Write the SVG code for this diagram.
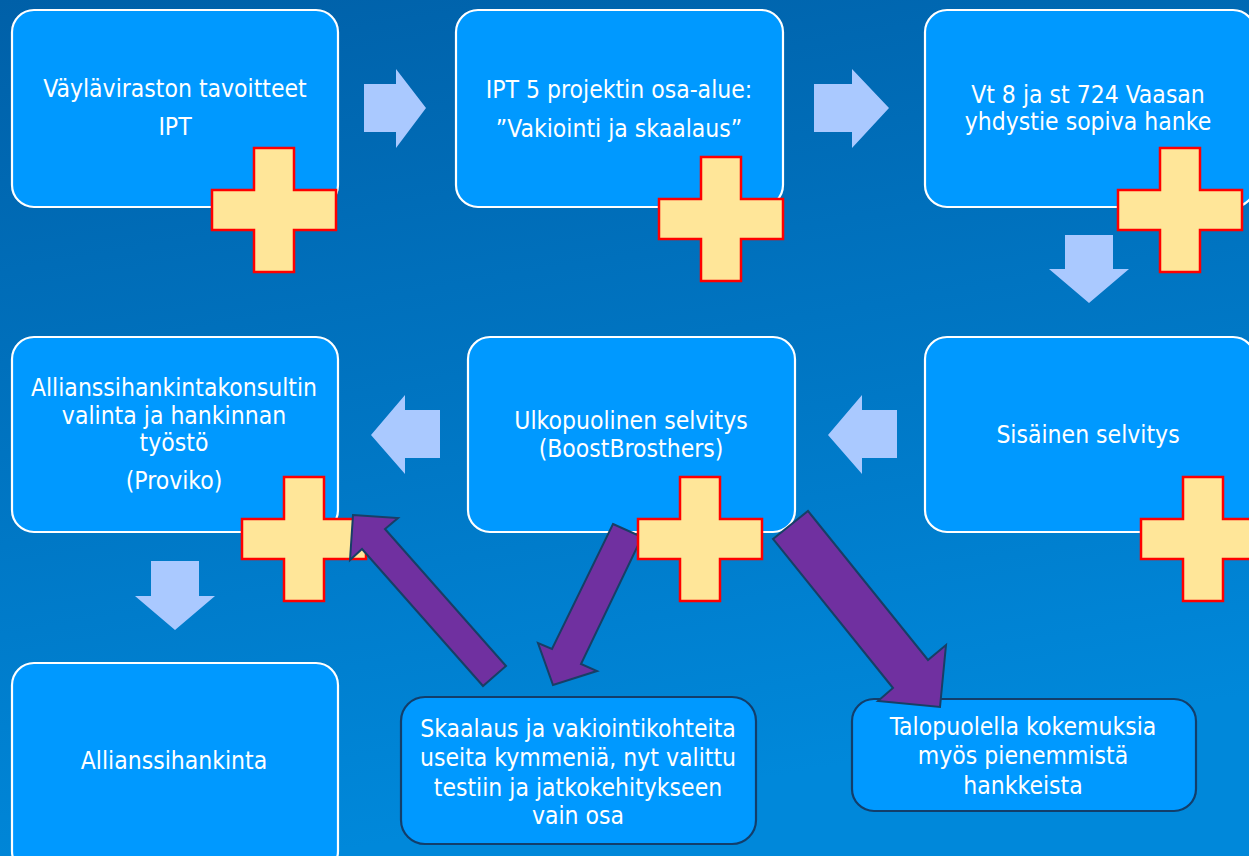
<svg xmlns="http://www.w3.org/2000/svg" xmlns:xlink="http://www.w3.org/1999/xlink" width="1249" height="856" viewBox="0 0 1249 856">
  <defs>
    <linearGradient id="bg" x1="0" y1="0" x2="0.25" y2="1">
      <stop offset="0" stop-color="#0060A8"/>
      <stop offset="1" stop-color="#0088DA"/>
    </linearGradient>
    <path id="plus" d="M42,0 h40 v42 h42 v40 h-42 v42 h-40 v-42 h-42 v-40 h42 z"/>
    <style>
      .box { fill: #0099FF; stroke: #FFFFFF; stroke-width: 2.2; }
      .box2 { fill: #0099FF; stroke: #123E6B; stroke-width: 2.2; }
      .plus { fill: #FFE699; stroke: #FF0000; stroke-width: 2.5; }
      .barrow { fill: #AAC9FF; stroke: none; }
      .parrow { fill: #7030A0; stroke: #173F66; stroke-width: 2; stroke-linejoin: miter; }
      text { font-family: "DejaVu Sans Condensed", "DejaVu Sans", sans-serif; font-stretch: condensed; font-size: 24.5px; fill: #FFFFFF; text-anchor: middle; }
    </style>
  </defs>
  <rect x="0" y="0" width="1249" height="856" fill="url(#bg)"/>

  <g id="flow-arrows">
    <polygon class="barrow" points="364,84 396,84 396,69 426,108 396,148 396,132 364,132"/>
    <polygon class="barrow" points="814,84 852,84 852,69 889,108 852,148 852,132 814,132"/>
    <polygon class="barrow" points="1065,235 1113,235 1113,269 1129,269 1089,303 1049,269 1065,269"/>
    <polygon class="barrow" points="897,410 862,410 862,395 828,435 862,474 862,458 897,458"/>
    <polygon class="barrow" points="440,410 405,410 405,395 371,435 405,474 405,458 440,458"/>
    <polygon class="barrow" points="151,561 199,561 199,596 215,596 175,630 135,596 151,596"/>
  </g>

  <g id="node-vaylavirasto">
    <rect class="box" x="12" y="10" width="326" height="197" rx="22"/>
    <text x="175" y="97">Väyläviraston tavoitteet</text>
    <text x="175" y="135">IPT</text>
  </g>
  <g id="node-ipt5">
    <rect class="box" x="456" y="10" width="327" height="197" rx="22"/>
    <text x="619" y="98">IPT 5 projektin osa-alue:</text>
    <text x="619" y="137">”Vakiointi ja skaalaus”</text>
  </g>
  <g id="node-vt8">
    <rect class="box" x="925" y="10" width="330" height="197" rx="22"/>
    <text x="1088" y="103">Vt 8 ja st 724 Vaasan</text>
    <text x="1088" y="130">yhdystie sopiva hanke</text>
  </g>
  <g id="node-allianssikonsultti">
    <rect class="box" x="12" y="337" width="326" height="195" rx="22"/>
    <text x="174" y="396">Allianssihankintakonsultin</text>
    <text x="174" y="424">valinta ja hankinnan</text>
    <text x="174" y="451">työstö</text>
    <text x="174" y="489">(Proviko)</text>
  </g>
  <g id="node-ulkopuolinen">
    <rect class="box" x="468" y="337" width="327" height="195" rx="22"/>
    <text x="631" y="429">Ulkopuolinen selvitys</text>
    <text x="631" y="457">(BoostBrosthers)</text>
  </g>
  <g id="node-sisainen">
    <rect class="box" x="925" y="337" width="330" height="195" rx="22"/>
    <text x="1088" y="443">Sisäinen selvitys</text>
  </g>
  <g id="node-allianssihankinta">
    <rect class="box" x="12" y="663" width="326" height="210" rx="22"/>
    <text x="174" y="769">Allianssihankinta</text>
  </g>
  <g id="node-skaalaus">
    <rect class="box2" x="401" y="697" width="355" height="147" rx="24"/>
    <text x="578" y="737">Skaalaus ja vakiointikohteita</text>
    <text x="578" y="766">useita kymmeniä, nyt valittu</text>
    <text x="578" y="796">testiin ja jatkokehitykseen</text>
    <text x="578" y="824">vain osa</text>
  </g>
  <g id="node-talopuoli">
    <rect class="box2" x="852" y="699" width="344" height="112" rx="22"/>
    <text x="1023" y="735">Talopuolella kokemuksia</text>
    <text x="1023" y="764">myös pienemmistä</text>
    <text x="1023" y="794">hankkeista</text>
  </g>

  <g id="connector-b">
    <polygon class="parrow" points="613,524 642,537 581,664 597,671 553,685 538,643 552,649"/>
  </g>

  <g id="plus-marks">
    <use xlink:href="#plus" class="plus" transform="translate(212,148)"/>
    <use xlink:href="#plus" class="plus" transform="translate(659,157)"/>
    <use xlink:href="#plus" class="plus" transform="translate(1118,148)"/>
    <use xlink:href="#plus" class="plus" transform="translate(242,477)"/>
    <use xlink:href="#plus" class="plus" transform="translate(638,477)"/>
    <use xlink:href="#plus" class="plus" transform="translate(1141,477)"/>
  </g>

  <g id="connectors">
    <polygon class="parrow" points="353,515 398,518 385,529 506,666 483,686 362,549 350,560"/>
    <polygon class="parrow" points="773,539 808,511 928,660 946,645 940,707 878,701 893,688"/>
  </g>
</svg>
